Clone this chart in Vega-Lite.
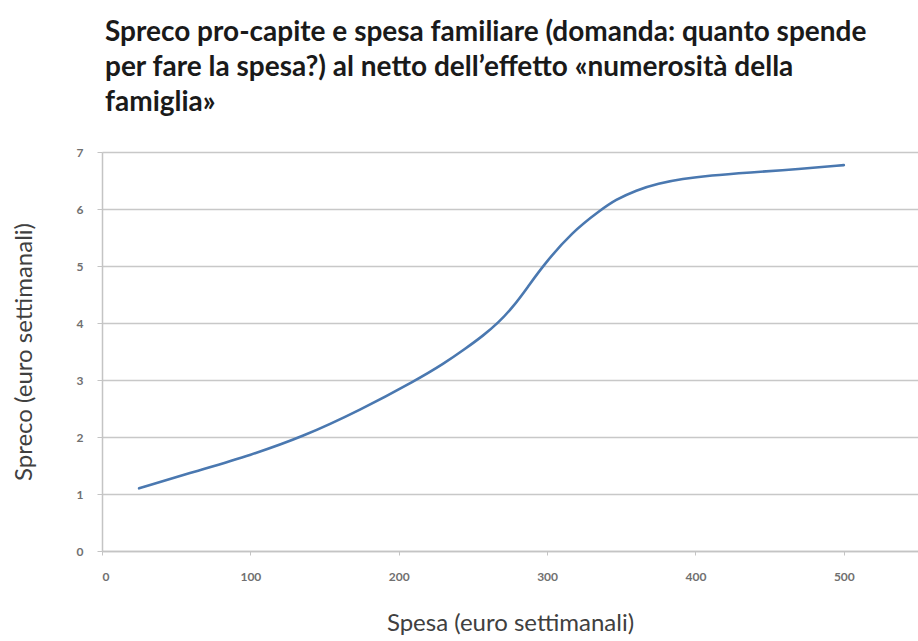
{
  "$schema": "https://vega.github.io/schema/vega-lite/v6.json",
  "autosize": "none",
  "width": 816,
  "height": 399,
  "padding": {"left": 102, "top": 152, "right": 0, "bottom": 90},
  "background": "white",
  "title": {
    "text": [
      "Spreco pro-capite e spesa familiare  (domanda: quanto spende",
      "per fare la spesa?) al netto dell’effetto «numerosità della",
      "famiglia»"
    ],
    "anchor": "start",
    "frame": "group",
    "font": "Lato",
    "fontWeight": "bold",
    "fontSize": 28,
    "lineHeight": 35,
    "color": "#1a1a1a",
    "offset": 29,
    "dx": 3
  },
  "data": {
    "values": [
      {"spesa": 25, "spreco": 1.1},
      {"spesa": 66, "spreco": 1.42},
      {"spesa": 100, "spreco": 1.68},
      {"spesa": 135, "spreco": 2.0},
      {"spesa": 174, "spreco": 2.47},
      {"spesa": 212, "spreco": 3.0},
      {"spesa": 230, "spreco": 3.28},
      {"spesa": 245, "spreco": 3.55},
      {"spesa": 257, "spreco": 3.78},
      {"spesa": 267, "spreco": 4.0},
      {"spesa": 277, "spreco": 4.28},
      {"spesa": 287, "spreco": 4.63},
      {"spesa": 297, "spreco": 5.0},
      {"spesa": 317, "spreco": 5.6},
      {"spesa": 336, "spreco": 5.98},
      {"spesa": 346, "spreco": 6.16},
      {"spesa": 360, "spreco": 6.33},
      {"spesa": 375, "spreco": 6.45},
      {"spesa": 391, "spreco": 6.53},
      {"spesa": 410, "spreco": 6.59},
      {"spesa": 436, "spreco": 6.64},
      {"spesa": 470, "spreco": 6.7},
      {"spesa": 500, "spreco": 6.77}
    ]
  },
  "mark": {
    "type": "line",
    "interpolate": "basis",
    "color": "#4a78b0",
    "strokeWidth": 2.6,
    "strokeCap": "round"
  },
  "encoding": {
    "x": {
      "field": "spesa",
      "type": "quantitative",
      "scale": {"domain": [0, 550], "nice": false, "zero": true},
      "axis": {
        "title": "Spesa (euro settimanali)",
        "values": [0, 100, 200, 300, 400, 500],
        "grid": false,
        "domain": true,
        "domainColor": "#c4c4c4",
        "domainWidth": 1.5,
        "ticks": true,
        "tickColor": "#c4c4c4",
        "tickSize": 4,
        "labelPadding": 16,
        "labelFont": "Lato",
        "labelFontSize": 12,
        "labelFontWeight": "bold",
        "labelColor": "#707070",
        "titleFont": "Lato",
        "titleFontSize": 24,
        "titleFontWeight": "normal",
        "titleColor": "#404040",
        "titlePadding": 29
      }
    },
    "y": {
      "field": "spreco",
      "type": "quantitative",
      "scale": {"domain": [0, 7], "nice": false},
      "axis": {
        "title": "Spreco (euro settimanali)",
        "values": [0, 1, 2, 3, 4, 5, 6, 7],
        "grid": true,
        "gridColor": "#c8c8c8",
        "gridWidth": 1.5,
        "domain": true,
        "domainColor": "#c4c4c4",
        "domainWidth": 1.5,
        "ticks": true,
        "tickColor": "#c4c4c4",
        "tickSize": 5,
        "labelPadding": 14,
        "labelFont": "Lato",
        "labelFontSize": 12,
        "labelFontWeight": "bold",
        "labelColor": "#707070",
        "titleFont": "Lato",
        "titleFontSize": 24,
        "titleFontWeight": "normal",
        "titleColor": "#404040",
        "titlePadding": 40
      }
    }
  },
  "config": {
    "view": {"stroke": null}
  }
}
